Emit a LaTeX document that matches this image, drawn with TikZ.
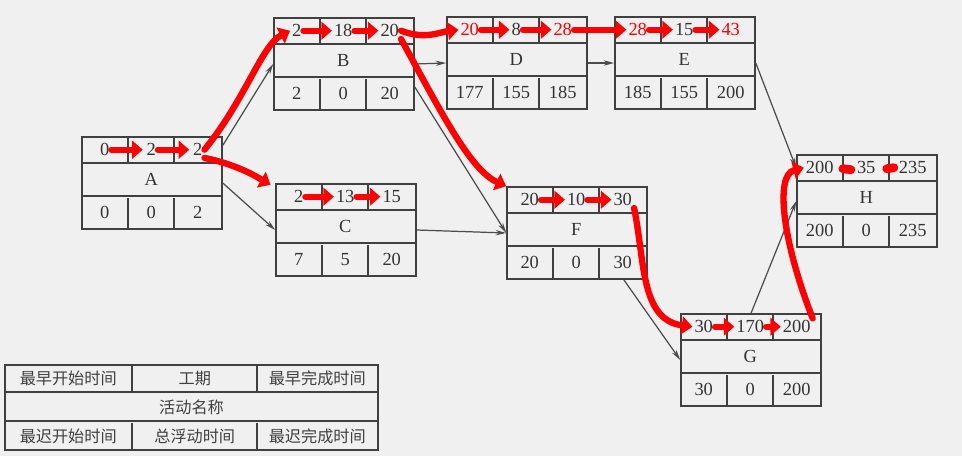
\documentclass[tikz,border=0pt]{standalone}
\usepackage{fontspec}
\setmainfont{Liberation Serif}
\newfontfamily\cjk{Noto Sans CJK SC}
\usetikzlibrary{calc,arrows.meta}

\tikzset{
  actbox/.style={draw=black!75, line width=0.9pt, minimum width=2.8cm, minimum height=1.84cm, inner sep=0pt},
  rule/.style={draw=black!75, line width=0.9pt},
  cell/.style={font=\fontsize{10.5}{12}\selectfont, text=black!80, inner sep=1pt},
  lgcell/.style={font=\cjk\fontsize{9.2}{11}\selectfont, text=black!75, inner sep=1pt},
  link/.style={draw=black!70, line width=0.7pt, -{Stealth[length=6pt,width=3pt]}},
  redarrow/.style={draw=red, line width=3.6pt, line cap=round, -{Triangle[length=6pt,width=10pt]}},
}

\newcommand{\redval}[1]{\textcolor{red}{#1}}

% activity box: name, x, y, ES, D, EF, LS, TF, LF
\newcommand{\activity}[9]{%
  \node[actbox] (#1) at (#2,#3) {};
  \draw[rule] ($(#1.north west)+(0,27)$) -- ($(#1.north east)+(0,27)$);
  \draw[rule] ($(#1.north west)+(0,60)$) -- ($(#1.north east)+(0,60)$);
  \draw[rule] ($(#1.north west)+(47,0)$) -- ($(#1.north west)+(47,27)$);
  \draw[rule] ($(#1.north west)+(93,0)$) -- ($(#1.north west)+(93,27)$);
  \draw[rule] ($(#1.south west)+(47,0)$) -- ($(#1.south west)+(47,-32)$);
  \draw[rule] ($(#1.south west)+(93,0)$) -- ($(#1.south west)+(93,-32)$);
  \node[cell] (#1-1) at ($(#1.north west)+(23.5,13.5)$) {#4};
  \node[cell] (#1-2) at ($(#1.north west)+(70,13.5)$) {#5};
  \node[cell] (#1-3) at ($(#1.north west)+(116.5,13.5)$) {#6};
  \node[cell] (#1-n) at ($(#1.north west)+(70,43.5)$) {#1};
  \node[cell] (#1-4) at ($(#1.north west)+(23.5,76)$) {#7};
  \node[cell] (#1-5) at ($(#1.north west)+(70,76)$) {#8};
  \node[cell] (#1-6) at ($(#1.north west)+(116.5,76)$) {#9};
}

\begin{document}
\begin{tikzpicture}[x=0.02cm, y=-0.02cm]
  \fill[black!6] (0,0) rectangle (962,456);

  % activities
  \activity{A}{152}{183}{0}{2}{2}{0}{0}{2}
  \activity{B}{344}{64}{2}{18}{20}{2}{0}{20}
  \activity{C}{346}{230}{2}{13}{15}{7}{5}{20}
  \activity{D}{517}{63}{\redval{20}}{8}{\redval{28}}{177}{155}{185}
  \activity{E}{685}{63}{\redval{28}}{15}{\redval{43}}{185}{155}{200}
  \activity{F}{577}{233}{20}{10}{30}{20}{0}{30}
  \activity{G}{751}{360}{30}{170}{200}{30}{0}{200}
  \activity{H}{867}{201}{200}{35}{235}{200}{0}{235}

  % links
  \draw[link] (A.28) -- (B.west);
  \draw[link] (A.east) -- (C.west);
  \draw[link] (B.east) -- (D.west);
  \draw[link] (B.-18) -- (F.west);
  \draw[link] (C.east) -- (F.west);
  \draw[link] (D.east) -- (E.west);
  \draw[link] (E.east) -- (H.155);
  \draw[link] (F.-45) -- (G.west);
  \draw[link] (G.north) -- (H.west);

  % legend
  \node[rule, minimum width=7.46cm, minimum height=1.7cm, inner sep=0pt] (lg) at (191.5,407.5) {};
  \draw[rule] ($(lg.north west)+(0,28)$) -- ($(lg.north east)+(0,28)$);
  \draw[rule] ($(lg.north west)+(0,57)$) -- ($(lg.north east)+(0,57)$);
  \draw[rule] ($(lg.north west)+(128,0)$) -- ($(lg.north west)+(128,28)$);
  \draw[rule] ($(lg.north west)+(253,0)$) -- ($(lg.north west)+(253,28)$);
  \draw[rule] ($(lg.south west)+(128,0)$) -- ($(lg.south west)+(128,-28)$);
  \draw[rule] ($(lg.south west)+(253,0)$) -- ($(lg.south west)+(253,-28)$);
  \node[lgcell] (lg-1) at ($(lg.north west)+(64,14)$) {最早开始时间};
  \node[lgcell] (lg-2) at ($(lg.north west)+(190.5,14)$) {工期};
  \node[lgcell] (lg-3) at ($(lg.north west)+(313,14)$) {最早完成时间};
  \node[lgcell] (lg-n) at (lg.center) {活动名称};
  \node[lgcell] (lg-4) at ($(lg.south west)+(64,-14)$) {最迟开始时间};
  \node[lgcell] (lg-5) at ($(lg.south west)+(190.5,-14)$) {总浮动时间};
  \node[lgcell] (lg-6) at ($(lg.south west)+(313,-14)$) {最迟完成时间};

  % red marks
  \draw[redarrow, shorten >=1pt] (A-1.east) -- (A-2.west);
  \draw[redarrow, shorten >=1pt] (A-2.east) -- (A-3.west);
  \draw[redarrow] (A-3.east) .. controls (245,100) and (262,45) .. (B-1.west);
  \draw[redarrow, shorten >=14pt] (A-3.south east) .. controls (240,165) and (262,180) .. (C-1.west);
  \draw[redarrow] (B-1.east) -- (B-2.west);
  \draw[redarrow] (B-2.east) -- (B-3.west);
  \draw[redarrow] (B-3.east) .. controls (425,40) and (440,32) .. (D-1.west);
  \draw[redarrow] (B-3.south east) .. controls (440,110) and (470,170) .. (F.north west);
  \draw[redarrow] (C-1.east) -- (C-2.west);
  \draw[redarrow] (C-2.east) -- (C-3.west);
  \draw[redarrow] (D-1.east) -- (D-2.west);
  \draw[redarrow] (D-2.east) -- (D-3.west);
  \draw[redarrow] (D-3.east) -- (E-1.west);
  \draw[redarrow] (E-1.east) -- (E-2.west);
  \draw[redarrow] (E-2.east) -- (E-3.west);
  \draw[redarrow] (F-1.east) -- (F-2.west);
  \draw[redarrow] (F-2.east) -- (F-3.west);
  \draw[redarrow] (F-3.south east) .. controls (645,260) and (640,320) .. (G-1.west);
  \draw[redarrow] (G-1.east) -- (G-2.west);
  \draw[redarrow] (G-2.east) -- (G-3.west);
  \draw[redarrow] (G-3.north east) .. controls (782,240) and (775,175) .. (H-1.west);
  \draw[red, line width=5pt, line cap=round] ($(H-2.west)+(-12,1)$) -- ($(H-2.west)+(-4,2)$);
  \draw[red, line width=5pt, line cap=round] ($(H-3.west)+(-10,1)$) -- ($(H-3.west)+(-3,0)$);
\end{tikzpicture}
\end{document}
